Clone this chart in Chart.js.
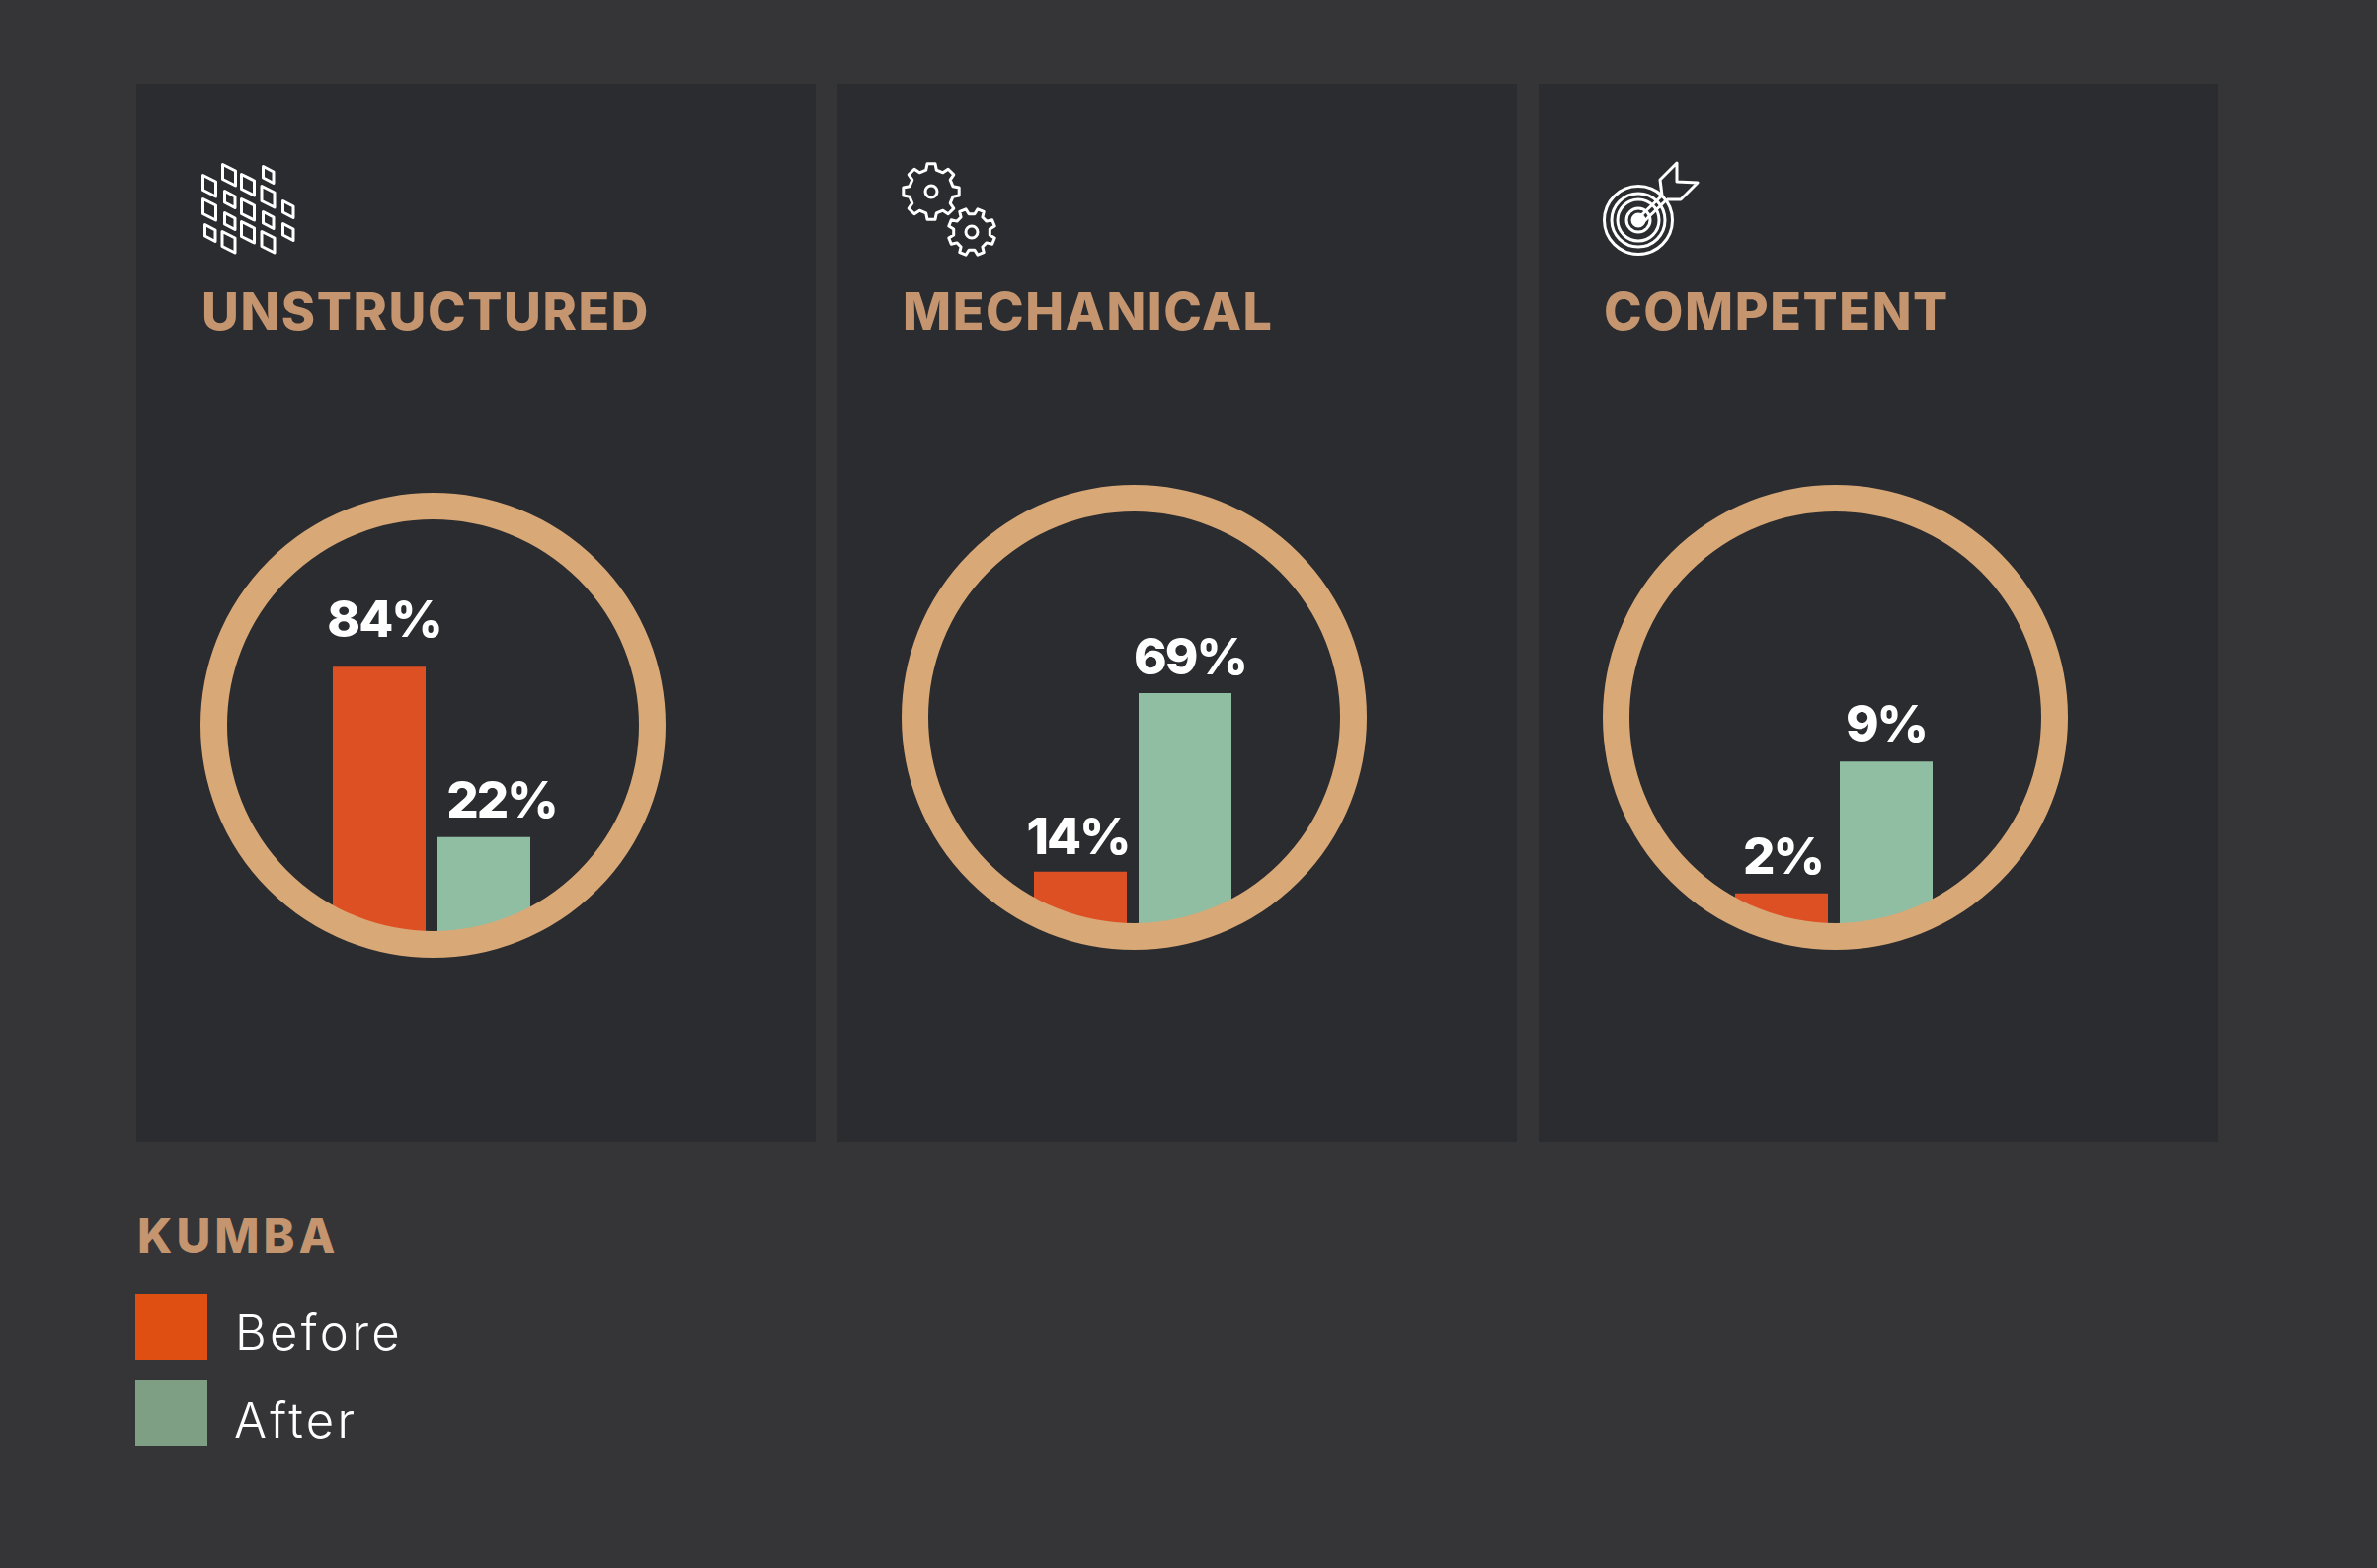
<!DOCTYPE html>
<html>
<head>
<meta charset="utf-8">
<title>Kumba</title>
<script src="https://cdn.jsdelivr.net/npm/chart.js@4/dist/chart.umd.js"></script>
<style>
  html, body { margin: 0; padding: 0; background: #353537; }
  #page { position: relative; width: 2407px; height: 1588px; overflow: hidden; font-family: Inter, sans-serif; }
  .panel { position: absolute; top: 85px; width: 688px; height: 1072px; background: #2b2c30; }
  .title { position: absolute; top: 285px; font-size: 52px; font-weight: 800; color: #c4956f; line-height: 62px; white-space: nowrap; letter-spacing: 1.6px; }
  .ring { position: absolute; width: 471px; height: 471px; }
  .swatch { position: absolute; left: 137px; width: 73px; height: 66px; }
  .legend-label { position: absolute; font-size: 49px; font-weight: 300; color: #fff; line-height: 60px; letter-spacing: 3.3px; }
  #icons { position: absolute; left: 0; top: 0; }
</style>
</head>
<body>
<div id="page"></div>
<script>
const categories = ['Before', 'After'];
const panelTitles = ['UNSTRUCTURED', 'MECHANICAL', 'COMPETENT'];
const unstructured = [84, 22];
const mechanical = [14, 69];
const competent = [2, 9];
const legendTitle = 'KUMBA';

const BAR_COLORS = ['#dd5024', '#90bea3'];
const SWATCH_COLORS = ['#e04f12', '#7f9f84'];
const RING_COLOR = '#d9a877';

// each ring in the source is drawn to its own scale, so each one gets its own axis range
const panels = [
  { left: 138,  title: 204,  ringX: 203,  ringY: 499, values: unstructured, yMin: -22,  yMax: 147.4, nudge: [[5, 30], [18, 20]] },
  { left: 848,  title: 914,  ringX: 913,  ringY: 491, values: mechanical,   yMin: -10.1, yMax: 133.2, nudge: [[-2.5, 18], [5, 19]] },
  { left: 1558, title: 1624, ringX: 1623, ringY: 491, values: competent,    yMin: -1,   yMax: 23.7,  nudge: [[1.5, 20], [0, 20]] }
];

const page = document.getElementById('page');

function addEl(cls, css, text) {
  const el = document.createElement('div');
  el.className = cls;
  Object.assign(el.style, css);
  if (text) el.textContent = text;
  page.appendChild(el);
  return el;
}

// ring + circular clip for the bars
const ringPlugin = {
  id: 'ring',
  beforeDatasetsDraw(chart) {
    const c = chart.width / 2;
    chart.ctx.save();
    chart.ctx.beginPath();
    chart.ctx.arc(c, c, c - 26, 0, Math.PI * 2);
    chart.ctx.clip();
  },
  afterDatasetsDraw(chart) {
    const ctx = chart.ctx;
    const c = chart.width / 2;
    ctx.restore();
    ctx.beginPath();
    ctx.arc(c, c, c - 13.5, 0, Math.PI * 2);
    ctx.lineWidth = 27;
    ctx.strokeStyle = RING_COLOR;
    ctx.stroke();
  }
};

// value labels above the bars, nudged per bar like the source
const valueLabels = {
  id: 'valueLabels',
  afterDraw(chart, args, opts) {
    const ctx = chart.ctx;
    ctx.save();
    ctx.font = '800 51px Inter, sans-serif';
    ctx.letterSpacing = '-2px';
    ctx.fillStyle = '#ffffff';
    ctx.textAlign = 'center';
    ctx.textBaseline = 'alphabetic';
    chart.getDatasetMeta(0).data.forEach((bar, i) => {
      const [dx, gap] = opts.nudge[i];
      ctx.fillText(chart.data.datasets[0].data[i] + '%', bar.x + dx, bar.y - gap);
    });
    ctx.restore();
  }
};

panels.forEach((p, n) => {
  addEl('panel', { left: p.left + 'px' });
  addEl('title', { left: p.title + 'px' }, panelTitles[n]);

  const box = addEl('ring', { left: p.ringX + 'px', top: p.ringY + 'px' });
  const canvas = document.createElement('canvas');
  box.appendChild(canvas);

  new Chart(canvas, {
    type: 'bar',
    data: {
      labels: categories,
      datasets: [{
        data: p.values,
        backgroundColor: BAR_COLORS,
        base: p.yMin,
        barPercentage: 94 / 106,
        categoryPercentage: 1
      }]
    },
    plugins: [ringPlugin, valueLabels],
    options: {
      responsive: true,
      maintainAspectRatio: false,
      animation: false,
      layout: { padding: { left: 128, right: 131, top: 0, bottom: 0 } },
      scales: {
        x: { display: false },
        y: { display: false, min: p.yMin, max: p.yMax }
      },
      plugins: {
        legend: { display: false },
        tooltip: { enabled: false },
        valueLabels: { nudge: p.nudge }
      }
    }
  });
});

// legend
addEl('title', { left: '139px', top: '1221px', fontSize: '48px', letterSpacing: '4px' }, legendTitle);
addEl('swatch', { top: '1311px', background: SWATCH_COLORS[0] });
addEl('swatch', { top: '1398px', background: SWATCH_COLORS[1] });
addEl('legend-label', { left: '238px', top: '1320px' }, categories[0]);
addEl('legend-label', { left: '237px', top: '1409px' }, categories[1]);

// header icons, plain line art
function gear(cx, cy, rOut, rIn, teeth, rot) {
  const pts = [];
  const step = Math.PI * 2 / teeth;
  for (let i = 0; i < teeth; i++) {
    const a = rot + i * step;
    [[-0.3, rIn], [-0.18, rOut], [0.18, rOut], [0.3, rIn]].forEach(([f, r]) => {
      pts.push((cx + r * Math.cos(a + f * step)).toFixed(1) + ',' + (cy + r * Math.sin(a + f * step)).toFixed(1));
    });
  }
  return `<polygon points="${pts.join(' ')}"/><circle cx="${cx}" cy="${cy}" r="6"/>`;
}

function cell(x, y, big) {
  const w = big ? 13 : 10.5, side = big ? 15 : 11.5, shear = big ? 6.5 : 5.5;
  return `<path d="M${x} ${y} L${x + w} ${y + shear} V${y + shear + side} L${x} ${y + side} Z"/>`;
}

const cellList = [
  [205.5, 177.5, 1], [205.5, 201.5, 1], [207.5, 227.5, 0],
  [225.5, 166.5, 1], [227.5, 193.5, 0], [227.5, 215.5, 0], [225, 234.5, 1],
  [244.5, 176.5, 1], [244.5, 201.5, 1], [244.5, 224.5, 1],
  [266.5, 168.5, 0], [265, 188.5, 1], [266.5, 214.5, 0], [265, 234.5, 1],
  [286.5, 203.5, 0], [286.5, 226.5, 0]
];

const target = [34.5, 27, 21, 12].map(r => `<circle cx="1659" cy="223" r="${r}"/>`).join('');
const icons =
  `<svg id="icons" width="2407" height="1588" fill="none" stroke="#ffffff" stroke-width="3" stroke-linejoin="round">` +
  cellList.map(c => cell(...c)).join('') +
  gear(943, 194, 28.5, 22.5, 8, -Math.PI / 2) +
  gear(984, 235, 24, 18.5, 8, -Math.PI / 2 + Math.PI / 8) +
  target +
  `<circle cx="1659" cy="223" r="6" fill="#ffffff"/>` +
  `<path d="M1660 220 L1683 198 M1664 225 L1688 202" />` +
  `<path d="M1683 198 L1681 182 L1698 165 L1698 184 L1719 185 L1702 202 L1688 202" />` +
  `</svg>`;
page.insertAdjacentHTML('beforeend', icons);
</script>
</body>
</html>
